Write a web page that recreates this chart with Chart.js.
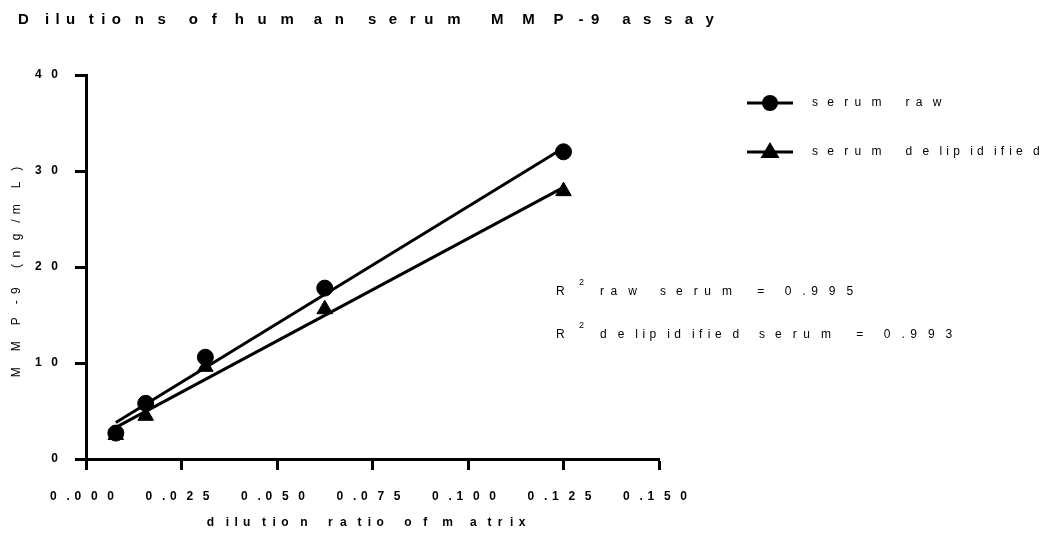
<!DOCTYPE html>
<html>
<head>
<meta charset="utf-8">
<script src="https://cdn.jsdelivr.net/npm/chart.js@4.4.1/dist/chart.umd.min.js"></script>
<style>
  html, body { margin: 0; padding: 0; background: #fff; }
  #wrap { width: 1059px; height: 550px; position: relative; }
</style>
</head>
<body>
<div id="wrap"><canvas id="mmpChart"></canvas></div>
<script>
// data
var dilutions = [0.0078125, 0.015625, 0.03125, 0.0625, 0.125];
var serumRaw = [2.7, 5.8, 10.6, 17.8, 32.0];
var serumDelip = [2.5, 4.5, 9.6, 15.6, 27.9];
// regression lines, end points
var fitX = [0.0078125, 0.125];
var fitRaw = [3.8, 32.4];
var fitDelip = [3.3, 28.3];
var xTicks = [0, 0.025, 0.05, 0.075, 0.1, 0.125, 0.15];
var yTicks = [0, 10, 20, 30, 40];
var seriesNames = ['serum raw', 'serum delipidified'];
var r2Labels = ['raw serum', 'delipidified serum'];
var r2Values = ['0.995', '0.993'];

var FONT = "'Liberation Sans', Arial, sans-serif";

function pts(xs, ys) {
    return xs.map(function (x, i) { return { x: x, y: ys[i] }; });
}

// Prism-like stretched text: every glyph advance widened by factor k
function spreadText(ctx, text, x, y, k, align) {
    var adv = [], total = 0;
    for (var i = 0; i < text.length; i++) {
        var a = ctx.measureText(text[i]).width * k;
        adv.push(a);
        total += a;
    }
    var vis = total - adv[adv.length - 1] + ctx.measureText(text[text.length - 1]).width;
    var cx = x;
    if (align === 'center') cx = x - vis / 2;
    if (align === 'right') cx = x - vis;
    ctx.textAlign = 'left';
    for (var j = 0; j < text.length; j++) {
        ctx.fillText(text[j], cx, y);
        cx += adv[j];
    }
}

function marker(ctx, style, x, y, r) {
    ctx.beginPath();
    if (style === 'circle') {
        ctx.arc(x, y, r, 0, Math.PI * 2);
    } else {
        ctx.moveTo(x, y - r);
        ctx.lineTo(x + r * 0.95, y + r * 0.6);
        ctx.lineTo(x - r * 0.95, y + r * 0.6);
        ctx.closePath();
    }
    ctx.fill();
}

var decorations = {
    id: 'decorations',
    afterDraw: function (chart) {
        var ctx = chart.ctx;
        var xs = chart.scales.x, ys = chart.scales.y;
        ctx.save();
        ctx.fillStyle = '#000';
        ctx.strokeStyle = '#000';
        ctx.textBaseline = 'middle';

        // title
        ctx.font = 'bold 15px ' + FONT;
        spreadText(ctx, 'Dilutions of human serum MMP-9 assay', 18, 20, 2.5, 'left');

        // tick labels
        ctx.font = 'bold 12px ' + FONT;
        xs.ticks.forEach(function (t) {
            spreadText(ctx, t.value.toFixed(3), xs.getPixelForValue(t.value) - 4, 497, 2.45, 'center');
        });
        ys.ticks.forEach(function (t) {
            spreadText(ctx, String(t.value), 58, ys.getPixelForValue(t.value), 2.45, 'right');
        });

        // axis titles
        ctx.font = 'bold 12px ' + FONT;
        spreadText(ctx, 'dilution ratio of matrix', 366, 523, 2.6, 'center');
        ctx.save();
        ctx.translate(17, 272);
        ctx.rotate(-Math.PI / 2);
        ctx.font = '12px ' + FONT;
        spreadText(ctx, 'MMP-9 (ng/mL)', 0, 0, 2.6, 'center');
        ctx.restore();

        // legend
        var styles = ['circle', 'triangle'];
        var rows = [103, 152];
        ctx.font = '12px ' + FONT;
        for (var i = 0; i < seriesNames.length; i++) {
            ctx.lineWidth = 3;
            ctx.beginPath();
            ctx.moveTo(747, rows[i]);
            ctx.lineTo(793, rows[i]);
            ctx.stroke();
            marker(ctx, styles[i], 770, rows[i], styles[i] === 'circle' ? 8 : 10);
            spreadText(ctx, seriesNames[i], 812, rows[i], 2.55, 'left');
        }

        // R squared notes
        var r2Rows = [292, 335];
        for (var j = 0; j < r2Labels.length; j++) {
            ctx.font = '12px ' + FONT;
            ctx.fillText('R', 556, r2Rows[j]);
            ctx.font = '9px ' + FONT;
            ctx.fillText('2', 579, r2Rows[j] - 9);
            ctx.font = '12px ' + FONT;
            spreadText(ctx, r2Labels[j] + ' = ' + r2Values[j], 600, r2Rows[j], 2.65, 'left');
        }
        ctx.restore();
    }
};

function axisOpts(min, max, tickList, fitFn) {
    return {
        type: 'linear',
        min: min,
        max: max,
        afterBuildTicks: function (scale) {
            scale.ticks = tickList.map(function (v) { return { value: v }; });
        },
        afterFit: fitFn,
        ticks: { display: false },
        grid: {
            display: true,
            drawOnChartArea: false,
            drawTicks: true,
            tickLength: 11,
            tickWidth: 3,
            tickColor: '#000'
        },
        border: { display: true, width: 3, color: '#000' }
    };
}

var ctx = document.getElementById('mmpChart').getContext('2d');
var mmpChart = new Chart(ctx, {
    type: 'scatter',
    data: {
        datasets: [
            {
                label: seriesNames[0],
                data: pts(dilutions, serumRaw),
                pointStyle: 'circle',
                pointRadius: 8,
                backgroundColor: '#000',
                borderColor: '#000',
                showLine: false,
                clip: false
            },
            {
                label: seriesNames[1],
                data: pts(dilutions, serumDelip),
                pointStyle: 'triangle',
                pointRadius: 9,
                backgroundColor: '#000',
                borderColor: '#000',
                showLine: false,
                clip: false
            },
            {
                label: 'fit raw',
                data: pts(fitX, fitRaw),
                showLine: true,
                pointRadius: 0,
                borderWidth: 3,
                borderColor: '#000'
            },
            {
                label: 'fit delipidified',
                data: pts(fitX, fitDelip),
                showLine: true,
                pointRadius: 0,
                borderWidth: 3,
                borderColor: '#000'
            }
        ]
    },
    options: {
        responsive: true,
        maintainAspectRatio: false,
        animation: false,
        layout: { padding: { top: 75, right: 400, bottom: 0, left: 0 } },
        plugins: {
            legend: { display: false },
            title: { display: false },
            tooltip: { enabled: false }
        },
        scales: {
            x: axisOpts(0, 0.15, xTicks, function (s) { s.height = 91; }),
            y: axisOpts(0, 40, yTicks, function (s) { s.width = 86; })
        }
    },
    plugins: [decorations]
});
</script>
</body>
</html>
